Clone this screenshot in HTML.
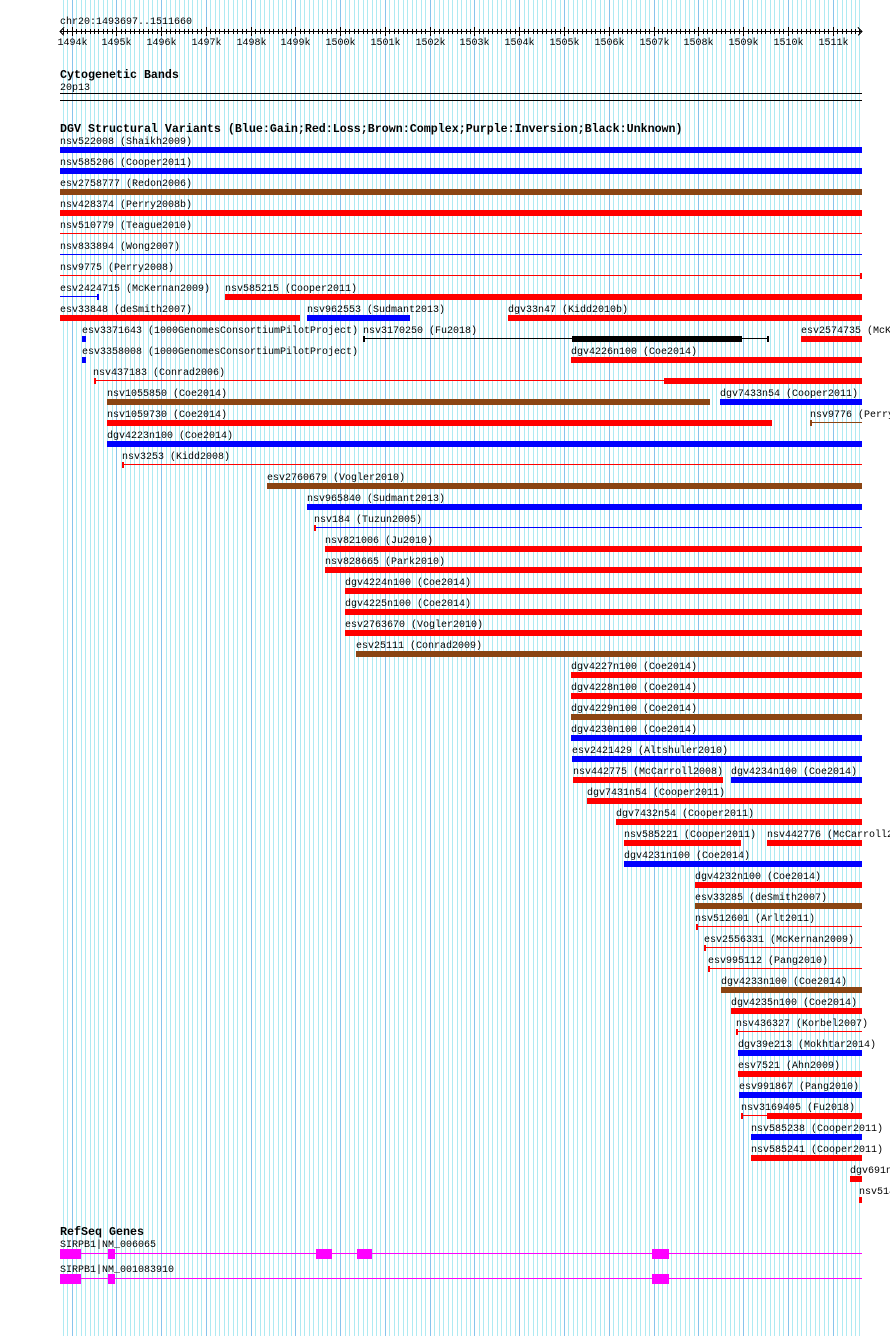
<!DOCTYPE html>
<html><head><meta charset="utf-8"><style>
html,body{margin:0;padding:0;background:#fff;}
svg{display:block;}
text{font-family:"Liberation Mono",monospace;font-size:10px;fill:#000;}
.b{font-weight:bold;font-size:11.67px;}
</style></head><body>
<svg id="s" width="890" height="1336" xmlns="http://www.w3.org/2000/svg" shape-rendering="crispEdges">
<g id="grid"></g>
<text x="60" y="24">chr20:1493697..1511660</text>
<g stroke="#000" fill="none">
<line x1="60" y1="31.5" x2="862" y2="31.5"/>
<polyline points="64,27.5 60,31.5 64,35.5"/>
<polyline points="858,27.5 862,31.5 858,35.5"/>
</g>
<g id="ticks"></g>
<g id="rl"></g>
<text class="b" x="60" y="78">Cytogenetic Bands</text>
<text x="60" y="90">20p13</text>
<rect x="60" y="93" width="802" height="1" fill="#000"/>
<rect x="60" y="100" width="802" height="1" fill="#000"/>
<text class="b" x="60" y="132">DGV Structural Variants (Blue:Gain;Red:Loss;Brown:Complex;Purple:Inversion;Black:Unknown)</text>
<g id="rows">
<text x="60" y="144">nsv522008 (Shaikh2009)</text>
<text x="60" y="165">nsv585206 (Cooper2011)</text>
<text x="60" y="186">esv2758777 (Redon2006)</text>
<text x="60" y="207">nsv428374 (Perry2008b)</text>
<text x="60" y="228">nsv510779 (Teague2010)</text>
<text x="60" y="249">nsv833894 (Wong2007)</text>
<text x="60" y="270">nsv9775 (Perry2008)</text>
<text x="60" y="291">esv2424715 (McKernan2009)</text>
<text x="225" y="291">nsv585215 (Cooper2011)</text>
<text x="60" y="312">esv33848 (deSmith2007)</text>
<text x="307" y="312">nsv962553 (Sudmant2013)</text>
<text x="508" y="312">dgv33n47 (Kidd2010b)</text>
<text x="82" y="333">esv3371643 (1000GenomesConsortiumPilotProject)</text>
<text x="363" y="333">nsv3170250 (Fu2018)</text>
<text x="801" y="333">esv2574735 (McKernan2009)</text>
<text x="82" y="354">esv3358008 (1000GenomesConsortiumPilotProject)</text>
<text x="571" y="354">dgv4226n100 (Coe2014)</text>
<text x="93" y="375">nsv437183 (Conrad2006)</text>
<text x="107" y="396">nsv1055850 (Coe2014)</text>
<text x="720" y="396">dgv7433n54 (Cooper2011)</text>
<text x="107" y="417">nsv1059730 (Coe2014)</text>
<text x="810" y="417">nsv9776 (Perry2008)</text>
<text x="107" y="438">dgv4223n100 (Coe2014)</text>
<text x="122" y="459">nsv3253 (Kidd2008)</text>
<text x="267" y="480">esv2760679 (Vogler2010)</text>
<text x="307" y="501">nsv965840 (Sudmant2013)</text>
<text x="314" y="522">nsv184 (Tuzun2005)</text>
<text x="325" y="543">nsv821006 (Ju2010)</text>
<text x="325" y="564">nsv828665 (Park2010)</text>
<text x="345" y="585">dgv4224n100 (Coe2014)</text>
<text x="345" y="606">dgv4225n100 (Coe2014)</text>
<text x="345" y="627">esv2763670 (Vogler2010)</text>
<text x="356" y="648">esv25111 (Conrad2009)</text>
<text x="571" y="669">dgv4227n100 (Coe2014)</text>
<text x="571" y="690">dgv4228n100 (Coe2014)</text>
<text x="571" y="711">dgv4229n100 (Coe2014)</text>
<text x="571" y="732">dgv4230n100 (Coe2014)</text>
<text x="572" y="753">esv2421429 (Altshuler2010)</text>
<text x="573" y="774">nsv442775 (McCarroll2008)</text>
<text x="731" y="774">dgv4234n100 (Coe2014)</text>
<text x="587" y="795">dgv7431n54 (Cooper2011)</text>
<text x="616" y="816">dgv7432n54 (Cooper2011)</text>
<text x="624" y="837">nsv585221 (Cooper2011)</text>
<text x="767" y="837">nsv442776 (McCarroll2008)</text>
<text x="624" y="858">dgv4231n100 (Coe2014)</text>
<text x="695" y="879">dgv4232n100 (Coe2014)</text>
<text x="695" y="900">esv33285 (deSmith2007)</text>
<text x="695" y="921">nsv512601 (Arlt2011)</text>
<text x="704" y="942">esv2556331 (McKernan2009)</text>
<text x="708" y="963">esv995112 (Pang2010)</text>
<text x="721" y="984">dgv4233n100 (Coe2014)</text>
<text x="731" y="1005">dgv4235n100 (Coe2014)</text>
<text x="736" y="1026">nsv436327 (Korbel2007)</text>
<text x="738" y="1047">dgv39e213 (Mokhtar2014)</text>
<text x="738" y="1068">esv7521 (Ahn2009)</text>
<text x="739" y="1089">esv991867 (Pang2010)</text>
<text x="741" y="1110">nsv3169405 (Fu2018)</text>
<text x="751" y="1131">nsv585238 (Cooper2011)</text>
<text x="751" y="1152">nsv585241 (Cooper2011)</text>
<text x="850" y="1173">dgv691n100 (Coe2014)</text>
<text x="859" y="1194">nsv514</text>
</g>
<g id="bars"></g>
<text class="b" x="60" y="1235">RefSeq Genes</text>
<text x="60" y="1247">SIRPB1|NM_006065</text>
<text x="60" y="1272">SIRPB1|NM_001083910</text>
<g fill="#f0f" stroke="none">
<rect x="81" y="1253" width="781" height="1"/>
<rect x="60" y="1249" width="21" height="10"/>
<rect x="108" y="1249" width="7" height="10"/>
<rect x="316" y="1249" width="16" height="10"/>
<rect x="357" y="1249" width="15" height="10"/>
<rect x="652" y="1249" width="17" height="10"/>
<rect x="81" y="1278" width="781" height="1"/>
<rect x="60" y="1274" width="21" height="10"/>
<rect x="108" y="1274" width="7" height="10"/>
<rect x="652" y="1274" width="17" height="10"/>
</g>
</svg>
<script>
var NS="http://www.w3.org/2000/svg";
function el(p,t,a){var e=document.createElementNS(NS,t);for(var k in a)e.setAttribute(k,a[k]);p.appendChild(e);return e;}
var g=document.getElementById('grid'),tk=document.getElementById('ticks'),rl=document.getElementById('rl');
var s=4.4765,x0=71.6;
for(var k=-2;k<=177;k++){var x=Math.round(x0+k*s);if(x>861)break;
 var major=(k%10==0);
 el(g,'rect',{x:x,y:0,width:1,height:1336,fill:major?'#88c4ec':'#aeeaf2'});
 el(tk,'rect',{x:x,y:major?27:29,width:1,height:major?9:5,fill:'#000'});
 if(major){var t=el(rl,'text',{x:x+0.5,y:45,'text-anchor':'middle'});t.textContent=(1494+k/10)+'k';}
}
var b=document.getElementById('bars');
var C={b:'#0000ff',r:'#ff0000',n:'#8b4513',k:'#000'};
// [row, x1, x2, color, type] type: T thick, L thin, with tick option
var R=[
[0,60,862,'b','T'],[1,60,862,'b','T'],[2,60,862,'n','T'],[3,60,862,'r','T'],
[4,60,862,'r','L'],[5,60,862,'b','L'],[6,60,862,'r','L'],[6,860,862,'r','K'],
[7,60,98,'b','L'],[7,97,98,'b','K'],[7,225,862,'r','T'],
[8,60,300,'r','T'],[8,307,410,'b','T'],[8,508,862,'r','T'],
[9,82,86,'b','T'],[9,363,768,'k','L'],[9,363,364,'k','K'],[9,767,768,'k','K'],[9,572,742,'k','T'],[9,801,862,'r','T'],
[10,82,86,'b','T'],[10,571,862,'r','T'],
[11,94,862,'r','L'],[11,94,95,'r','K'],[11,664,862,'r','T'],
[12,107,710,'n','T'],[12,720,862,'b','T'],
[13,107,772,'r','T'],[13,810,862,'n','L'],[13,810,811,'n','K'],
[14,107,862,'b','T'],
[15,122,862,'r','L'],[15,122,123,'r','K'],
[16,267,862,'n','T'],[17,307,862,'b','T'],
[18,314,862,'b','L'],[18,314,315,'r','K'],
[19,325,862,'r','T'],[20,325,862,'r','T'],[21,345,862,'r','T'],[22,345,862,'r','T'],[23,345,862,'r','T'],[24,356,862,'n','T'],
[25,571,862,'r','T'],[26,571,862,'r','T'],[27,571,862,'n','T'],[28,571,862,'b','T'],[29,572,862,'b','T'],
[30,573,723,'r','T'],[30,731,862,'b','T'],
[31,587,862,'r','T'],[32,616,862,'r','T'],
[33,624,741,'r','T'],[33,767,862,'r','T'],
[34,624,862,'b','T'],[35,695,862,'r','T'],[36,695,862,'n','T'],
[37,696,862,'r','L'],[37,696,697,'r','K'],
[38,704,862,'r','L'],[38,704,705,'r','K'],
[39,708,862,'r','L'],[39,708,709,'r','K'],
[40,721,862,'n','T'],[41,731,862,'r','T'],
[42,736,862,'r','L'],[42,736,737,'r','K'],
[43,738,862,'b','T'],[44,738,862,'r','T'],[45,739,862,'b','T'],
[46,741,767,'r','L'],[46,741,742,'r','K'],[46,767,862,'r','T'],
[47,751,862,'b','T'],[48,751,862,'r','T'],
[49,850,862,'r','T'],[50,859,862,'r','T']
];
R.forEach(function(r){var y=147+21*r[0];var c=C[r[3]];
 if(r[4]=='T')el(b,'rect',{x:r[1],y:y,width:r[2]-r[1],height:6,fill:c});
 else if(r[4]=='L')el(b,'rect',{x:r[1],y:y+2,width:r[2]-r[1],height:1,fill:c});
 else el(b,'rect',{x:r[1],y:y,width:2,height:6,fill:c});
});
</script>
</body></html>
